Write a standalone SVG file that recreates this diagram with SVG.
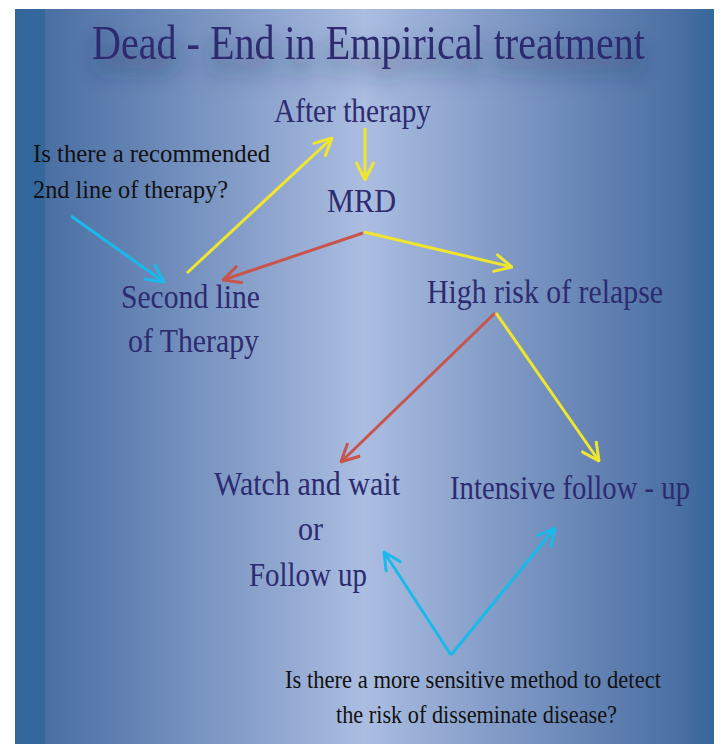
<svg xmlns="http://www.w3.org/2000/svg" width="721" height="744" viewBox="0 0 721 744">
<style>
.node{font-family:"Liberation Serif","DejaVu Serif",serif;font-size:34px;fill:#2d2b6f}
.q{font-family:"Liberation Serif","DejaVu Serif",serif;font-size:26px;fill:#111111}
.title{font-family:"Liberation Serif","DejaVu Serif",serif;font-size:42px;fill:#2d2b6f}
.c{fill:none;stroke-width:3;stroke-linecap:butt}
.y{stroke:#f0e62e}
.r{stroke:#c9544b}
.b{stroke:#19b9ea}
</style>
<defs>
<linearGradient id="bg" x1="0" y1="0" x2="1" y2="0">
<stop offset="0" stop-color="#33669a"/>
<stop offset="0.042" stop-color="#34679b"/>
<stop offset="0.044" stop-color="#4a6fa3"/>
<stop offset="0.2" stop-color="#6a88b8"/>
<stop offset="0.5" stop-color="#abbde1"/>
<stop offset="0.8" stop-color="#6a88b8"/>
<stop offset="0.95" stop-color="#4a6fa2"/>
<stop offset="1" stop-color="#34679b"/>
</linearGradient>
<filter id="shadow" x="-20%" y="-80%" width="140%" height="300%">
<feGaussianBlur in="SourceAlpha" stdDeviation="10"/>
<feOffset dy="12" result="b"/>
<feFlood flood-color="#1e2c55" flood-opacity="0.7"/>
<feComposite in2="b" operator="in" result="s"/>
<feMerge><feMergeNode in="s"/><feMergeNode in="SourceGraphic"/></feMerge>
</filter>
<marker id="ay" viewBox="0 0 20 20" refX="19" refY="10" markerWidth="20" markerHeight="20" markerUnits="userSpaceOnUse" orient="auto"><path d="M1,1 L19,10 L1,19" fill="none" stroke="#f0e62e" stroke-width="3"/></marker>
<marker id="ar" viewBox="0 0 20 20" refX="19" refY="10" markerWidth="20" markerHeight="20" markerUnits="userSpaceOnUse" orient="auto"><path d="M1,1 L19,10 L1,19" fill="none" stroke="#c9544b" stroke-width="3"/></marker>
<marker id="ab" viewBox="0 0 20 20" refX="19" refY="10" markerWidth="20" markerHeight="20" markerUnits="userSpaceOnUse" orient="auto"><path d="M1,1 L19,10 L1,19" fill="none" stroke="#19b9ea" stroke-width="3"/></marker>
</defs>
<rect x="0" y="0" width="721" height="744" fill="#ffffff"/>
<rect x="15" y="9" width="699" height="735" fill="url(#bg)"/>
<g id="title"><text class="title" transform="translate(92,59) scale(1,1.17)" x="0" y="0" textLength="553" lengthAdjust="spacingAndGlyphs" filter="url(#shadow)">Dead - End in Empirical treatment</text></g>
<g id="connectors">
<line class="c y" x1="365" y1="128" x2="365" y2="180" marker-end="url(#ay)"/>
<line class="c y" x1="187" y1="273" x2="332" y2="138" marker-end="url(#ay)"/>
<line class="c r" x1="363" y1="233" x2="223" y2="280" marker-end="url(#ar)"/>
<line class="c y" x1="364" y1="232" x2="512" y2="267" marker-end="url(#ay)"/>
<line class="c r" x1="495" y1="313" x2="341" y2="462" marker-end="url(#ar)"/>
<line class="c y" x1="496" y1="313" x2="599" y2="461" marker-end="url(#ay)"/>
<line class="c b" x1="71" y1="216" x2="164" y2="282" marker-end="url(#ab)"/>
<line class="c b" x1="451" y1="655" x2="384" y2="552" marker-end="url(#ab)"/>
<line class="c b" x1="451" y1="655" x2="555" y2="528" marker-end="url(#ab)"/>
</g>
<g id="after"><text class="node" x="274" y="122" textLength="157" lengthAdjust="spacingAndGlyphs">After therapy</text></g>
<g id="mrd"><text class="node" x="327" y="212" textLength="69" lengthAdjust="spacingAndGlyphs">MRD</text></g>
<g id="second"><text class="node" x="121" y="308" textLength="139" lengthAdjust="spacingAndGlyphs">Second line</text><text class="node" x="128" y="352" textLength="131" lengthAdjust="spacingAndGlyphs">of Therapy</text></g>
<g id="highrisk"><text class="node" x="427" y="303" textLength="236" lengthAdjust="spacingAndGlyphs">High risk of relapse</text></g>
<g id="watch"><text class="node" x="214" y="495" textLength="186" lengthAdjust="spacingAndGlyphs">Watch and wait</text><text class="node" x="298" y="540" textLength="25" lengthAdjust="spacingAndGlyphs">or</text><text class="node" x="249" y="586" textLength="118" lengthAdjust="spacingAndGlyphs">Follow up</text></g>
<g id="intensive"><text class="node" style="font-size:30px" transform="translate(450,499) scale(1,1.13)" x="0" y="0" textLength="240" lengthAdjust="spacingAndGlyphs">Intensive follow - up</text></g>
<g id="q1"><text class="q" x="33" y="162" textLength="237" lengthAdjust="spacingAndGlyphs">Is there a recommended</text><text class="q" x="33" y="198" textLength="195" lengthAdjust="spacingAndGlyphs">2nd line of therapy?</text></g>
<g id="q2"><text class="q" x="285" y="688" textLength="376" lengthAdjust="spacingAndGlyphs">Is there a more sensitive method to detect</text><text class="q" x="336" y="723" textLength="281" lengthAdjust="spacingAndGlyphs">the risk of disseminate disease?</text></g>
</svg>
